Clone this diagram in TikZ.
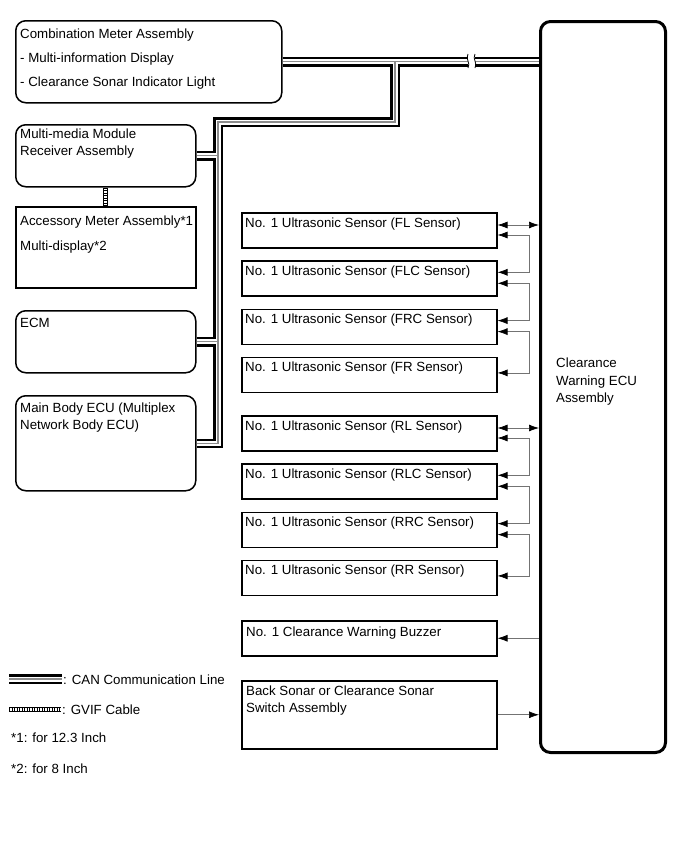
\documentclass[tikz,border=0pt]{standalone}
\usepackage{fontspec}
\setmainfont{Liberation Sans}
\usetikzlibrary{positioning, arrows.meta}

\tikzset{
    can/.style={line width=9.5pt, draw=black,
        postaction={draw=white, line width=5pt},
        postaction={draw=black!45, line width=1.1pt}},
    gvif/.style={line width=4.6pt, draw=black,
        postaction={draw=white, line width=3.2pt},
        postaction={draw=black, line width=3.2pt, dash pattern=on .6pt off 1.9pt}},
    unit/.style={draw, line width=1.5pt, rounded corners=10pt, inner sep=0pt, anchor=north west},
    sensor/.style={draw, line width=1.5pt, inner sep=0pt, minimum width=255pt, minimum height=35pt},
    lbl/.style={anchor=base west, inner sep=0pt, font=\fontsize{13.3}{16}\selectfont},
    sig/.style={draw=black!55, line width=.7pt},
}

\begin{document}
\begin{tikzpicture}[x=1pt, y=-1pt, node distance=11.8pt,
        >={Latex[color=black, length=10pt, width=7pt]}]
        \useasboundingbox (0,0) rectangle (690,855);

        % left column
        \node[unit, minimum width=266pt, minimum height=82pt] (cm) at (15,20) {};
        \node[unit, minimum width=180pt, minimum height=62pt] (mm) at (15,124) {};
        \node[unit, sharp corners, minimum width=180pt, minimum height=81pt] (acc) at (15,206) {};
        \node[unit, minimum width=180pt, minimum height=62pt] (ecm) at (15,310) {};
        \node[unit, minimum width=180pt, minimum height=95pt] (mb) at (15,395) {};
        \node[unit, line width=3pt, minimum width=125pt, minimum height=731pt] (ecu) at (539,20) {};

        \node[lbl] (cm-1) at (20,38) {Combination Meter Assembly};
        \node[lbl] (cm-2) at (20,62) {- Multi-information Display};
        \node[lbl] (cm-3) at (20,86) {- Clearance Sonar Indicator Light};
        \node[lbl] (mm-1) at (20,138) {Multi-media Module};
        \node[lbl] (mm-2) at (20,155) {Receiver Assembly};
        \node[lbl] (acc-1) at (20,225) {Accessory Meter Assembly*1};
        \node[lbl] (acc-2) at (20,250) {Multi-display*2};
        \node[lbl] (ecm-1) at (20,327) {ECM};
        \node[lbl] (mb-1) at (20,412) {Main Body ECU (Multiplex};
        \node[lbl] (mb-2) at (20,429) {Network Body ECU)};
        \node[lbl] (ecu-1) at (556,367) {Clearance};
        \node[lbl] (ecu-2) at (556,385) {Warning ECU};
        \node[lbl] (ecu-3) at (556,402) {Assembly};

        % sensors
        \node[sensor, anchor=north west] (fl) at (241,212) {};
        \node[sensor, below=of fl] (flc) {};
        \node[sensor, below=of flc] (frc) {};
        \node[sensor, below=of frc] (fr) {};
        \node[sensor, anchor=north west] (rl) at (241,415) {};
        \node[sensor, below=of rl] (rlc) {};
        \node[sensor, below=of rlc] (rrc) {};
        \node[sensor, below=of rrc] (rr) {};
        \node[sensor, anchor=north west] (buz) at (241,620) {};
        \node[sensor, anchor=north west, minimum height=68pt] (bs) at (241,680) {};

        \foreach \s/\pos in {fl/FL, flc/FLC, frc/FRC, fr/FR, rl/RL, rlc/RLC, rrc/RRC, rr/RR}
            \node[lbl] (\s-t) at ([xshift=4pt, yshift=-15pt]\s.north west) {No. 1 Ultrasonic Sensor (\pos\ Sensor)};
        \node[lbl] (buz-t) at (246,636) {No. 1 Clearance Warning Buzzer};
        \node[lbl] (bs-1) at (246,695) {Back Sonar or Clearance Sonar};
        \node[lbl] (bs-2) at (246,712) {Switch Assembly};

        % sensor lines
        \foreach \s/\ya in {fl/13, flc/12, frc/12, fr/16, rl/13, rlc/12, rrc/12, rr/16} {
            \coordinate (\s-a) at ([yshift=-\ya*1pt]\s.north east);
            \coordinate (\s-b) at ([yshift=-23pt]\s.north east);
        }
        \coordinate (bus) at (529,0);
        \draw[sig, <->] (fl-a) -- (fl-a -| ecu.west);
        \draw[sig, <->] (rl-a) -- (rl-a -| ecu.west);
        \foreach \p/\q in {fl/flc, flc/frc, frc/fr, rl/rlc, rlc/rrc, rrc/rr}
            \draw[sig, <->] (\p-b) -- (\p-b -| bus) -- (\q-a -| bus) -- (\q-a);
        \draw[sig, <-] (buz.east) -- (buz.east -| ecu.west);
        \draw[sig, ->] (bs.east) -- (bs.east -| ecu.west);

        % CAN bus
        \coordinate (ja) at (395,122);
        \coordinate (jb) at (218,122);
        \draw[can] (cm.east) -- (cm.east -| ecu.west)
            (cm.east -| ja) -- (ja) -- (jb) -- (mb.east -| jb) -- (mb.east)
            (mm.east) -- (mm.east -| jb)
            (ecm.east) -- (ecm.east -| jb);
        \fill[white] (468,53) rectangle (475,69);
        \draw[line width=.8pt] (468,54) .. controls (465,59) and (471,63) .. (468,68);
        \draw[line width=.8pt] (475,54) .. controls (472,59) and (478,63) .. (475,68);

        % GVIF
        \draw[gvif] (mm.south) -- (acc.north);

        % legend
        \coordinate (lc1) at (9,679);
        \coordinate (lc2) at (62,679);
        \draw[can] (lc1) -- (lc2);
        \node[lbl] (lc-t) at (63,684) {: CAN Communication Line};
        \coordinate (lg1) at (9,709.5);
        \coordinate (lg2) at (61,709.5);
        \draw[gvif] (lg1) -- (lg2);
        \node[lbl] (lg-t) at (62,714) {: GVIF Cable};
        \node[lbl] (n1) at (11,742) {*1: for 12.3 Inch};
        \node[lbl] (n2) at (11,773) {*2: for 8 Inch};
\end{tikzpicture}
\end{document}
